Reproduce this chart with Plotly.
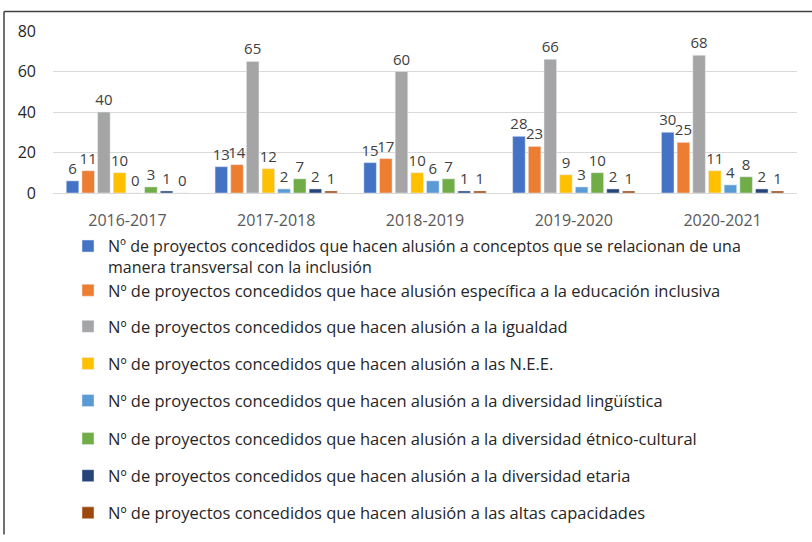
import plotly.graph_objects as go

categories = ["2016-2017", "2017-2018", "2018-2019", "2019-2020", "2020-2021"]

series_names = [
    "Nº de proyectos concedidos que hacen alusión a conceptos que se relacionan de una<br>manera transversal con la inclusión",
    "Nº de proyectos concedidos que hace alusión específica a la educación inclusiva",
    "Nº de proyectos concedidos que hacen alusión a la igualdad",
    "Nº de proyectos concedidos que hacen alusión a las N.E.E.",
    "Nº de proyectos concedidos que hacen alusión a la diversidad lingüística",
    "Nº de proyectos concedidos que hacen alusión a la diversidad étnico-cultural",
    "Nº de proyectos concedidos que hacen alusión a la diversidad etaria",
    "Nº de proyectos concedidos que hacen alusión a las altas capacidades",
]

transversal = [6, 13, 15, 28, 30]
educacion_inclusiva = [11, 14, 17, 23, 25]
igualdad = [40, 65, 60, 66, 68]
nee = [10, 12, 10, 9, 11]
linguistica = [0, 2, 6, 3, 4]
etnico_cultural = [3, 7, 7, 10, 8]
etaria = [1, 2, 1, 2, 2]
altas_capacidades = [0, 1, 1, 1, 1]

series_values = [transversal, educacion_inclusiva, igualdad, nee,
                 linguistica, etnico_cultural, etaria, altas_capacidades]

colors = ["#4472C4", "#ED7D31", "#A5A5A5", "#FFC000",
          "#5B9BD5", "#70AD47", "#264478", "#9E480E"]

y_ticks = [0, 20, 40, 60, 80]

FONT = "Open Sans, Liberation Sans, Arial, sans-serif"

# layout geometry (pixels)
W, H = 812, 542
ML, MR, MT, MB = 53, 15, 31, 345
plot_h = H - MT - MB
plot_w = W - ML - MR

def py_to_paper(py):
    return (H - MB - py) / plot_h

def px_to_paper(px):
    return (px - ML) / plot_w

legend_tops_px = [234, 279, 316, 354, 392, 431, 469, 507]
legend_fonts = [16, 16.5, 16.5, 16.5, 16.5, 16.5, 16.5, 16.5]
legend_x = px_to_paper(68)

fig = go.Figure()
for i, (name, vals, col) in enumerate(zip(series_names, series_values, colors)):
    lg = "legend" if i == 0 else f"legend{i+1}"
    fig.add_trace(go.Bar(
        x=categories, y=vals, name=name, marker_color=col,
        text=vals, textposition="outside", texttemplate="%{y}",
        constraintext="none",
        textfont=dict(family=FONT, size=15, color="#404040"),
        cliponaxis=False, legend=lg,
    ))

layout_legends = {}
for i, (top, fs) in enumerate(zip(legend_tops_px, legend_fonts)):
    key = "legend" if i == 0 else f"legend{i+1}"
    layout_legends[key] = dict(
        x=legend_x, y=py_to_paper(top),
        font=dict(family=FONT, size=fs, color="#262626"),
        bgcolor="rgba(0,0,0,0)", xanchor="left", yanchor="top", valign="top",
        itemclick=False, itemdoubleclick=False,
    )

fig.update_layout(
    width=W, height=H,
    margin=dict(l=ML, r=MR, t=MT, b=MB),
    paper_bgcolor="white", plot_bgcolor="white",
    barmode="group", bargap=0.157, bargroupgap=0.2,
    showlegend=True,
    font=dict(family=FONT),
    xaxis=dict(
        tickfont=dict(size=16, color="#595959"),
        showline=True, linecolor="#D9D9D9", linewidth=1,
        ticks="", showgrid=False, ticklabelstandoff=13,
    ),
    yaxis=dict(
        range=[0, 80], tickvals=y_ticks,
        tickfont=dict(size=16, color="#262626"),
        showgrid=True, gridcolor="#D9D9D9", gridwidth=1,
        zeroline=False, showline=False, ticks="", ticklabelstandoff=16,
    ),
    shapes=[
        dict(type="line", xref="paper", yref="paper",
             x0=px_to_paper(4), x1=px_to_paper(W + 5),
             y0=py_to_paper(11), y1=py_to_paper(11),
             line=dict(color="#404040", width=1.5)),
        dict(type="line", xref="paper", yref="paper",
             x0=px_to_paper(4), x1=px_to_paper(4),
             y0=py_to_paper(11), y1=py_to_paper(H + 5),
             line=dict(color="#404040", width=1.5)),
    ],
    **layout_legends,
)

fig.write_html(
    "out.html",
    config={"displayModeBar": False},
    post_script="document.body.style.margin='0';document.body.style.padding='0';",
)
